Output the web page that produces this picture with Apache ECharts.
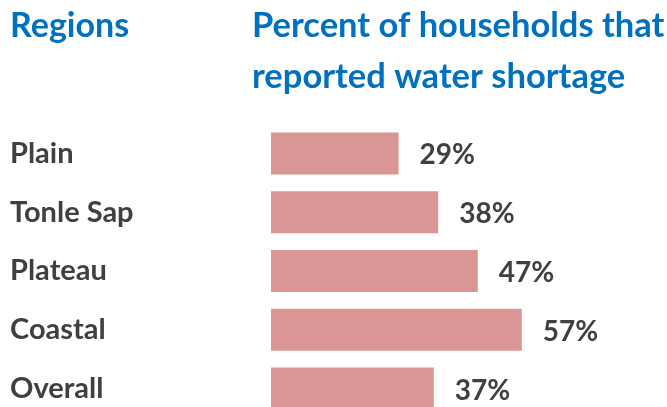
<!DOCTYPE html>
<html>
<head>
<meta charset="utf-8">
<script src="https://cdn.jsdelivr.net/npm/echarts@6/dist/echarts.min.js"></script>
<style>
  html, body { margin: 0; padding: 0; background: #fff; }
  #chart { width: 667px; height: 407px; }
</style>
</head>
<body>
<div id="chart"></div>
<script>
// 数据：地区及报告缺水的家庭百分比
const regions = ['Plain', 'Tonle Sap', 'Plateau', 'Coastal', 'Overall']
const shortagePct = [29, 38, 47, 57, 37]
const headerLeft = 'Regions'
const headerRight = 'Percent of households that\nreported water shortage'

const blue = '#0070C0'
const dark = '#404040'
const barColor = '#DA9694'
const font = 'Lato'

const chart = echarts.init(document.getElementById('chart'))

chart.setOption({
  animation: false,
  title: [
    {
      text: headerLeft,
      left: 5,
      top: 4,
      textStyle: { color: blue, fontFamily: font, fontWeight: 'bold', fontSize: 34 }
    },
    {
      text: headerRight,
      left: 247,
      top: -5,
      textStyle: { color: blue, fontFamily: font, fontWeight: 'bold', fontSize: 34.5, lineHeight: 51 }
    }
  ],
  // 网格：条形从 x=271 开始，每类占约 58.8px
  grid: {
    left: 271,
    top: 124,
    width: 352,
    height: 294,
    outerBoundsMode: 'none'
  },
  xAxis: {
    type: 'value',
    min: 0,
    max: 80,
    show: false
  },
  yAxis: {
    type: 'category',
    data: regions,
    inverse: true,
    axisLine: { show: false },
    axisTick: { show: false },
    splitLine: { show: false },
    axisLabel: {
      align: 'left',
      margin: 261,
      color: dark,
      fontFamily: font,
      fontWeight: 'bold',
      fontSize: 29
    }
  },
  series: [
    {
      type: 'bar',
      data: shortagePct,
      barWidth: 42,
      itemStyle: { color: barColor },
      label: {
        show: true,
        position: 'right',
        distance: 21,
        offset: [0, 2],
        formatter: p => p.value + '%',
        color: dark,
        fontFamily: font,
        fontWeight: 'bold',
        fontSize: 28
      }
    }
  ]
})
</script>
</body>
</html>
